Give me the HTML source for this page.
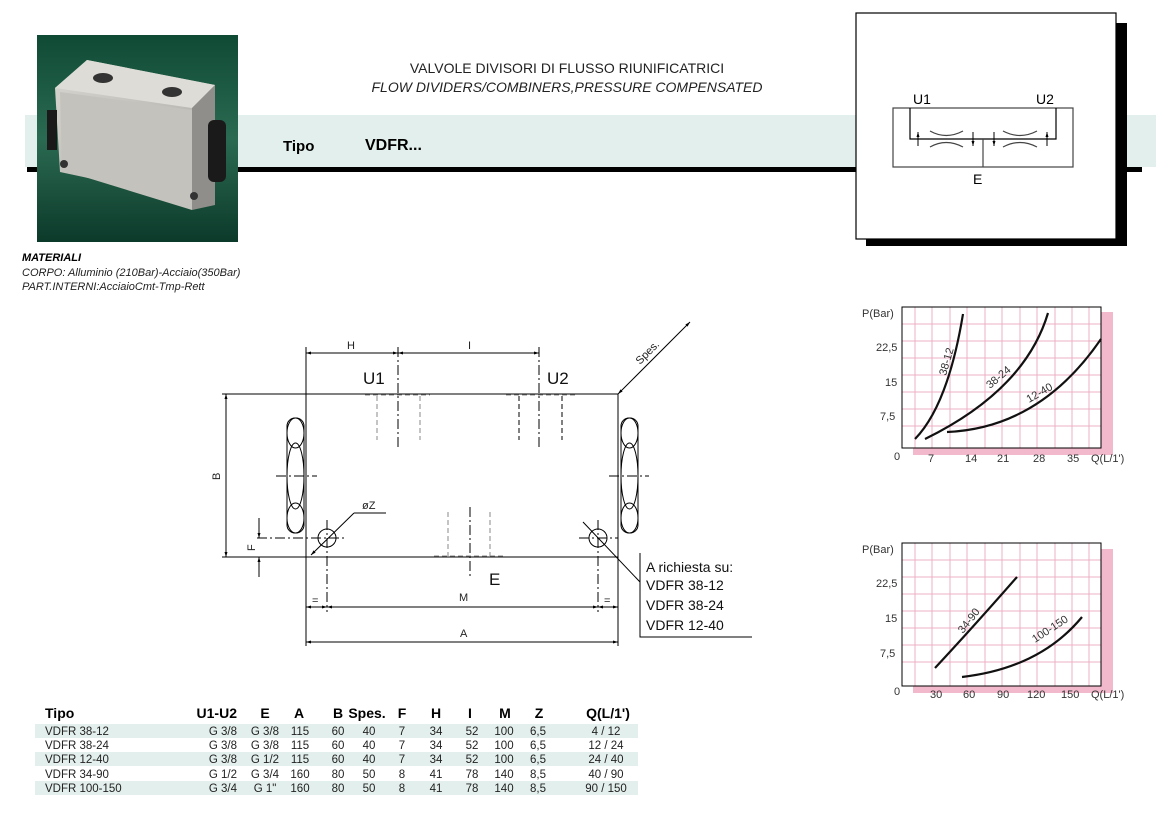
<!DOCTYPE html>
<html><head><meta charset="utf-8"><style>
html,body{margin:0;padding:0;background:#fff}
svg{display:block}
text{font-family:"Liberation Sans",Arial,sans-serif}
</style></head><body>
<svg width="1173" height="818" viewBox="0 0 1173 818" xmlns="http://www.w3.org/2000/svg">
<defs>
<linearGradient id="bg" x1="0" y1="0" x2="0" y2="1"><stop offset="0" stop-color="#0f4a35"/><stop offset="0.5" stop-color="#2b6a52"/><stop offset="1" stop-color="#0c3a2a"/></linearGradient>
<linearGradient id="face" x1="0" y1="0" x2="1" y2="1"><stop offset="0" stop-color="#d8d6d0"/><stop offset="1" stop-color="#a8a7a2"/></linearGradient>
<marker id="ar" viewBox="0 0 10 10" refX="10" refY="5" markerWidth="8" markerHeight="5" orient="auto-start-reverse"><path d="M0,2 L10,5 L0,8z" fill="#000"/></marker>
<marker id="as" viewBox="0 0 10 10" refX="10" refY="5" markerWidth="5" markerHeight="5" orient="auto"><path d="M0,2 L10,5 L0,8z" fill="#000"/></marker>
</defs>

<!-- band -->
<rect x="25" y="115" width="1131" height="52" fill="#e3efec"/>
<rect x="27" y="167" width="1115" height="5" fill="#000"/>

<!-- photo -->
<rect x="37" y="35" width="201" height="207" fill="url(#bg)"/>
<polygon points="55,88 87,60 215,85 215,205 60,172" fill="url(#face)"/>
<polygon points="55,88 87,60 215,85 192,108" fill="#dedcd6"/>
<polygon points="192,108 215,85 215,205 192,210" fill="#8f8e8a"/>
<polygon points="60,92 192,110 192,210 62,170" fill="#c4c2bc"/>
<rect x="208" y="120" width="18" height="62" rx="6" fill="#1a1a1a"/>
<rect x="47" y="110" width="10" height="40" fill="#1a1a1a"/>
<ellipse cx="103" cy="78" rx="10" ry="5" fill="#333"/>
<ellipse cx="172" cy="92" rx="10" ry="5" fill="#333"/>
<circle cx="64" cy="164" r="4" fill="#333"/>
<circle cx="194" cy="196" r="4" fill="#333"/>

<text x="22" y="261" font-size="11" font-weight="bold" font-style="italic">MATERIALI</text>
<text x="22" y="276" font-size="11" font-style="italic" fill="#222">CORPO: Alluminio (210Bar)-Acciaio(350Bar)</text>
<text x="22" y="290" font-size="11" font-style="italic" fill="#222">PART.INTERNI:AcciaioCmt-Tmp-Rett</text>

<text x="567" y="73" font-size="14" text-anchor="middle" fill="#222">VALVOLE DIVISORI DI FLUSSO RIUNIFICATRICI</text>
<text x="567" y="92" font-size="14" font-style="italic" text-anchor="middle" fill="#222">FLOW DIVIDERS/COMBINERS,PRESSURE COMPENSATED</text>
<text x="283" y="151" font-size="15" font-weight="bold">Tipo</text>
<text x="365" y="150" font-size="16" font-weight="bold">VDFR...</text>

<!-- symbol box -->
<rect x="866" y="23" width="261" height="223" fill="#000"/>
<rect x="856" y="13" width="260" height="226" fill="#fff" stroke="#000" stroke-width="1.2"/>
<g stroke="#444" stroke-width="1.2" fill="none">
<rect x="893" y="108" width="180" height="59"/>
<polyline points="910,108 910,139 1056,139 1056,108" stroke="#000"/>
<line x1="983" y1="139" x2="983" y2="167"/>
<path d="M930,131 Q946,140 963,131"/><path d="M930,147 Q946,138 963,147"/>
<path d="M1003,131 Q1020,140 1037,131"/><path d="M1003,147 Q1020,138 1037,147"/>
</g>
<g stroke="#000" stroke-width="1">
<line x1="918" y1="146" x2="918" y2="132" marker-end="url(#as)"/>
<line x1="973" y1="132" x2="973" y2="146" marker-end="url(#as)"/>
<line x1="994" y1="132" x2="994" y2="146" marker-end="url(#as)"/>
<line x1="1047" y1="146" x2="1047" y2="132" marker-end="url(#as)"/>
</g>
<text x="913" y="104" font-size="14">U1</text>
<text x="1036" y="104" font-size="14">U2</text>
<text x="973" y="184" font-size="14">E</text>

<!-- technical drawing -->
<g stroke="#000" stroke-width="1" fill="none">
<rect x="306" y="394" width="312" height="163"/>
<line x1="306" y1="347" x2="306" y2="646"/>
<line x1="618" y1="394" x2="618" y2="646"/>
<line x1="306" y1="353" x2="398" y2="353" marker-start="url(#ar)" marker-end="url(#ar)"/>
<line x1="398" y1="353" x2="539" y2="353" marker-start="url(#ar)" marker-end="url(#ar)"/>
<line x1="398" y1="347" x2="398" y2="447" stroke-dasharray="10,3,2,3"/>
<line x1="539" y1="347" x2="539" y2="447" stroke-dasharray="10,3,2,3"/>
<line x1="470" y1="507" x2="470" y2="577" stroke-dasharray="10,3,2,3"/>
<g stroke="#888" stroke-dasharray="5,3">
<line x1="365" y1="395" x2="430" y2="395"/>
<line x1="377" y1="396" x2="377" y2="440"/><line x1="420" y1="396" x2="420" y2="440"/>
<line x1="506" y1="395" x2="575" y2="395"/>
<line x1="448" y1="512" x2="448" y2="556"/><line x1="490" y1="512" x2="490" y2="556"/>
<line x1="434" y1="556" x2="505" y2="556"/>
</g>
<g stroke="#000" stroke-dasharray="5,3">
<line x1="519" y1="396" x2="519" y2="440"/><line x1="562" y1="396" x2="562" y2="440"/>
</g>
<!-- nuts -->
<rect x="287" y="418" width="17" height="115" rx="8"/>
<ellipse cx="295.5" cy="433" rx="8.5" ry="15"/>
<ellipse cx="295.5" cy="476" rx="8.5" ry="33"/>
<ellipse cx="295.5" cy="518" rx="8.5" ry="15"/>
<rect x="621" y="418" width="17" height="115" rx="8"/>
<ellipse cx="629.5" cy="433" rx="8.5" ry="15"/>
<ellipse cx="629.5" cy="476" rx="8.5" ry="33"/>
<ellipse cx="629.5" cy="518" rx="8.5" ry="15"/>
<line x1="276" y1="476" x2="317" y2="476" stroke-dasharray="10,3,2,3"/>
<line x1="609" y1="476" x2="649" y2="476" stroke-dasharray="10,3,2,3"/>
<!-- holes -->
<circle cx="327" cy="538" r="9"/>
<circle cx="598" cy="538" r="9"/>
<line x1="257" y1="538" x2="344" y2="538" stroke-dasharray="10,3,2,3"/>
<line x1="579" y1="538" x2="618" y2="538" stroke-dasharray="10,3,2,3"/>
<line x1="327" y1="520" x2="327" y2="612" stroke-dasharray="10,3,2,3"/>
<line x1="598" y1="520" x2="598" y2="612" stroke-dasharray="10,3,2,3"/>
<line x1="311" y1="555" x2="354" y2="513" marker-start="url(#ar)"/>
<line x1="354" y1="513" x2="386" y2="513"/>
<line x1="583" y1="522" x2="640" y2="582" />
<polyline points="640,553 640,637 752,637"/>
<!-- B, F -->
<line x1="222" y1="394" x2="306" y2="394"/>
<line x1="222" y1="557" x2="306" y2="557"/>
<line x1="226" y1="394" x2="226" y2="557" marker-start="url(#ar)" marker-end="url(#ar)"/>
<line x1="259" y1="518" x2="259" y2="538" marker-end="url(#ar)"/>
<line x1="259" y1="577" x2="259" y2="557" marker-end="url(#ar)"/>
<!-- M, A -->
<line x1="306" y1="607" x2="327" y2="607" marker-start="url(#ar)" marker-end="url(#ar)"/>
<line x1="327" y1="607" x2="598" y2="607" marker-start="url(#ar)" marker-end="url(#ar)"/>
<line x1="598" y1="607" x2="618" y2="607" marker-start="url(#ar)" marker-end="url(#ar)"/>
<line x1="306" y1="642" x2="618" y2="642" marker-start="url(#ar)" marker-end="url(#ar)"/>
<!-- spes -->
<line x1="618" y1="394" x2="690" y2="322" marker-start="url(#ar)" marker-end="url(#ar)"/>
</g>
<g font-size="11" fill="#222">
<text x="347" y="349">H</text>
<text x="468" y="349">I</text>
<text x="362" y="509">øZ</text>
<text x="459" y="601">M</text>
<text x="460" y="637">A</text>
<text x="312" y="604">=</text>
<text x="604" y="604">=</text>
<text transform="translate(220,480) rotate(-90)">B</text>
<text transform="translate(255,551) rotate(-90)">F</text>
<text transform="translate(640,365) rotate(-45)">Spes.</text>
</g>
<text x="363" y="384" font-size="17" fill="#111">U1</text>
<text x="547" y="384" font-size="17" fill="#111">U2</text>
<text x="489" y="585" font-size="17" fill="#111">E</text>
<g font-size="14" fill="#111" font-family="Liberation Sans Narrow,Liberation Sans,sans-serif">
<text x="646" y="572">A richiesta su:</text>
<text x="646" y="590">VDFR 38-12</text>
<text x="646" y="610">VDFR 38-24</text>
<text x="646" y="630">VDFR 12-40</text>
</g>

<!-- chart 1 -->
<rect x="1101" y="312" width="12" height="143" fill="#f2b8cb"/>
<rect x="913" y="448" width="200" height="7" fill="#f2b8cb"/>
<g stroke="#eeb0c4" stroke-width="1">
<path d="M915,307V448M932,307V448M950,307V448M967,307V448M985,307V448M1002,307V448M1020,307V448M1037,307V448M1055,307V448M1072,307V448M1089,307V448"/>
<path d="M902,324H1101M902,341H1101M902,358H1101M902,375H1101M902,392H1101M902,409H1101M902,426H1101"/>
</g>
<rect x="902" y="307" width="199" height="141" fill="none" stroke="#000" stroke-width="1"/>
<g stroke="#111" stroke-width="2.2" fill="none">
<path d="M915,439 Q948,405 963,314"/>
<path d="M925,439 Q1025,390 1048,313"/>
<path d="M947,432 Q1040,428 1101,339"/>
</g>
<g font-size="11" fill="#333">
<text transform="translate(946,376) rotate(-74)">38-12</text>
<text transform="translate(990,389) rotate(-40)">38-24</text>
<text transform="translate(1029,403) rotate(-30)">12-40</text>
<text x="862" y="317">P(Bar)</text>
<text x="876" y="351">22,5</text><text x="885" y="386">15</text><text x="880" y="420">7,5</text><text x="894" y="460">0</text>
<text x="928" y="462">7</text><text x="965" y="462">14</text><text x="997" y="462">21</text><text x="1033" y="462">28</text><text x="1067" y="462">35</text><text x="1091" y="462">Q(L/1')</text>
</g>

<!-- chart 2 -->
<rect x="1101" y="549" width="12" height="144" fill="#f2b8cb"/>
<rect x="913" y="686" width="200" height="7" fill="#f2b8cb"/>
<g stroke="#eeb0c4" stroke-width="1">
<path d="M915,543V686M932,543V686M950,543V686M967,543V686M985,543V686M1002,543V686M1020,543V686M1037,543V686M1055,543V686M1072,543V686M1089,543V686"/>
<path d="M902,560H1101M902,577H1101M902,594H1101M902,611H1101M902,628H1101M902,645H1101M902,662H1101"/>
</g>
<rect x="902" y="543" width="199" height="143" fill="none" stroke="#000" stroke-width="1"/>
<g stroke="#111" stroke-width="2.2" fill="none">
<path d="M935,668 Q975,625 1017,577"/>
<path d="M962,677 Q1040,668 1082,617"/>
</g>
<g font-size="11" fill="#333">
<text transform="translate(963,634) rotate(-52)">34-90</text>
<text transform="translate(1035,643) rotate(-33)">100-150</text>
<text x="862" y="553">P(Bar)</text>
<text x="876" y="587">22,5</text><text x="885" y="622">15</text><text x="880" y="657">7,5</text><text x="894" y="695">0</text>
<text x="930" y="698">30</text><text x="963" y="698">60</text><text x="997" y="698">90</text><text x="1027" y="698">120</text><text x="1061" y="698">150</text><text x="1091" y="698">Q(L/1')</text>
</g>

<!-- table -->
<rect x="35" y="724" width="603" height="14" fill="#e3efec"/>
<rect x="35" y="752" width="603" height="14" fill="#e3efec"/>
<rect x="35" y="781" width="603" height="14" fill="#e3efec"/>
<g font-size="14" font-weight="bold" fill="#000">
<text x="45" y="718">Tipo</text>
<text x="237" y="718" text-anchor="end">U1-U2</text>
<text x="265" y="718" text-anchor="middle">E</text>
<text x="299" y="718" text-anchor="middle">A</text>
<text x="338" y="718" text-anchor="middle">B</text>
<text x="367" y="718" text-anchor="middle">Spes.</text>
<text x="402" y="718" text-anchor="middle">F</text>
<text x="436" y="718" text-anchor="middle">H</text>
<text x="470" y="718" text-anchor="middle">I</text>
<text x="505" y="718" text-anchor="middle">M</text>
<text x="539" y="718" text-anchor="middle">Z</text>
<text x="608" y="718" text-anchor="middle">Q(L/1')</text>
</g>
<g font-size="11.5" fill="#222">
<g id="r1" transform="translate(0,735)">
<text x="45">VDFR 38-12</text><text x="237" text-anchor="end">G 3/8</text><text x="265" text-anchor="middle">G 3/8</text><text x="300" text-anchor="middle">115</text><text x="338" text-anchor="middle">60</text><text x="369" text-anchor="middle">40</text><text x="402" text-anchor="middle">7</text><text x="436" text-anchor="middle">34</text><text x="472" text-anchor="middle">52</text><text x="504" text-anchor="middle">100</text><text x="538" text-anchor="middle">6,5</text><text x="606" text-anchor="middle">4  / 12</text>
</g>
<g transform="translate(0,749)">
<text x="45">VDFR 38-24</text><text x="237" text-anchor="end">G 3/8</text><text x="265" text-anchor="middle">G 3/8</text><text x="300" text-anchor="middle">115</text><text x="338" text-anchor="middle">60</text><text x="369" text-anchor="middle">40</text><text x="402" text-anchor="middle">7</text><text x="436" text-anchor="middle">34</text><text x="472" text-anchor="middle">52</text><text x="504" text-anchor="middle">100</text><text x="538" text-anchor="middle">6,5</text><text x="606" text-anchor="middle">12 / 24</text>
</g>
<g transform="translate(0,763)">
<text x="45">VDFR 12-40</text><text x="237" text-anchor="end">G 3/8</text><text x="265" text-anchor="middle">G 1/2</text><text x="300" text-anchor="middle">115</text><text x="338" text-anchor="middle">60</text><text x="369" text-anchor="middle">40</text><text x="402" text-anchor="middle">7</text><text x="436" text-anchor="middle">34</text><text x="472" text-anchor="middle">52</text><text x="504" text-anchor="middle">100</text><text x="538" text-anchor="middle">6,5</text><text x="606" text-anchor="middle">24 / 40</text>
</g>
<g transform="translate(0,778)">
<text x="45">VDFR 34-90</text><text x="237" text-anchor="end">G 1/2</text><text x="265" text-anchor="middle">G 3/4</text><text x="300" text-anchor="middle">160</text><text x="338" text-anchor="middle">80</text><text x="369" text-anchor="middle">50</text><text x="402" text-anchor="middle">8</text><text x="436" text-anchor="middle">41</text><text x="472" text-anchor="middle">78</text><text x="504" text-anchor="middle">140</text><text x="538" text-anchor="middle">8,5</text><text x="606" text-anchor="middle">40 / 90</text>
</g>
<g transform="translate(0,792)">
<text x="45">VDFR 100-150</text><text x="237" text-anchor="end">G 3/4</text><text x="265" text-anchor="middle">G 1"</text><text x="300" text-anchor="middle">160</text><text x="338" text-anchor="middle">80</text><text x="369" text-anchor="middle">50</text><text x="402" text-anchor="middle">8</text><text x="436" text-anchor="middle">41</text><text x="472" text-anchor="middle">78</text><text x="504" text-anchor="middle">140</text><text x="538" text-anchor="middle">8,5</text><text x="606" text-anchor="middle">90 / 150</text>
</g>
</g>
</svg>
</body></html>
